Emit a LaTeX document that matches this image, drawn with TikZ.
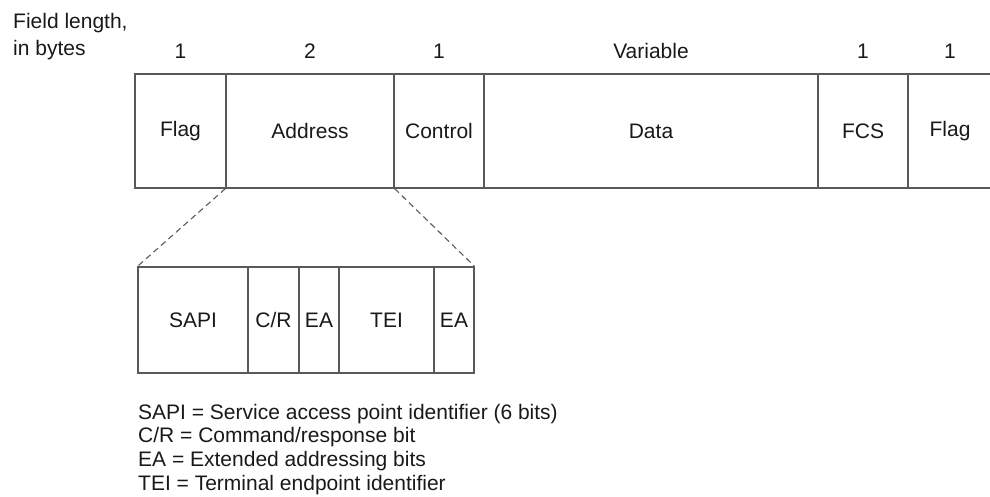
\documentclass[tikz,border=0pt]{standalone}
\usepackage{fontspec}
\setmainfont{Liberation Sans}

\tikzset{
  field/.style={draw=black!65, line width=1.2pt, minimum height=114pt, inner sep=0pt, text=black!90},
  subfield/.style={field, minimum height=106pt},
  zoomline/.style={draw=black!65, line width=1.1pt, dash pattern=on 6pt off 4pt},
  txt/.style={text=black!90, inner sep=0pt}
}

\begin{document}
\begin{tikzpicture}[x=1pt,y=-1pt,font=\fontsize{21}{25}\selectfont]
\useasboundingbox (0,0) rectangle (990,496);

\node[txt, align=left, anchor=north west, font=\fontsize{21}{27}\selectfont] (fieldlen) at (13,13) {Field length,\\in bytes};

% frame fields: name/left/right/label/length
\foreach \n/\a/\b/\t/\s in {flagA/135/226/Flag/1, addr/226/394/Address/2, ctrl/394/484/Control/1,
  data/484/818/Data/Variable, fcs/818/908/FCS/1, flagB/908/992/Flag/1}
{
\node[field, minimum width={\b-\a}] (\n) at ({(\a+\b)/2},131) {\t};
\node[txt, anchor=base] (\n-len) at ({(\a+\b)/2},58) {\s};
}

% address field, bit by bit
\foreach \n/\a/\b/\t in {sapi/138/248/SAPI, cr/248/299/{C/R}, eaA/299/339/EA, tei/339/434/TEI, eaB/434/474/EA}
\node[subfield, minimum width={\b-\a}] (\n) at ({(\a+\b)/2},320) {\t};

\draw[zoomline] (addr.south west) -- (sapi.north west);
\draw[zoomline] (addr.south east) -- (eaB.north east);

% key
\foreach \t [count=\i from 0] in {SAPI = Service access point identifier (6 bits),
  C/R = Command/response bit, EA = Extended addressing bits, TEI = Terminal endpoint identifier}
\node[txt, anchor=base west] (key\i) at (138,{419+23.7*\i}) {\t};

\end{tikzpicture}
\end{document}
